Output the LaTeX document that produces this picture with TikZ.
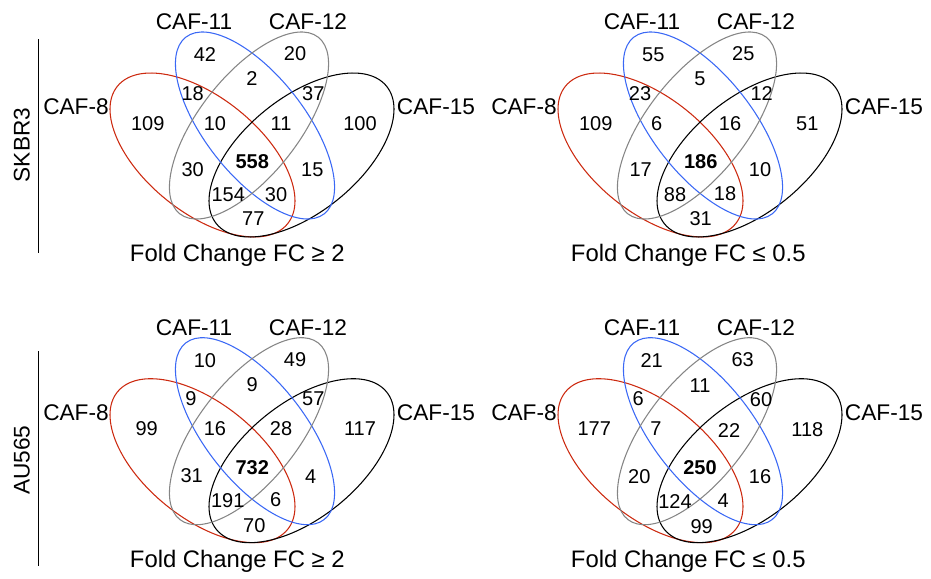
\documentclass[tikz,border=0pt]{standalone}
\usepackage{fontspec}
\setmainfont{Liberation Sans}
\definecolor{cafred}{HTML}{CC2A10}
\definecolor{cafblue}{HTML}{3A68F5}
\definecolor{cafgray}{HTML}{858585}
\tikzset{
  ell/.style={line width=0.8pt},
  num/.style={inner sep=0pt, font=\fontsize{15}{18}\selectfont},
  bnum/.style={num, font=\fontsize{15}{18}\selectfont\bfseries},
  lab/.style={inner sep=0pt, font=\fontsize{17}{20}\selectfont},
  fclab/.style={inner sep=0pt, font=\fontsize{17.9}{21}\selectfont, anchor=base},
  venn/.pic={
    \draw[ell, cafred, rotate around={-38.9:(202.5,155)}] (202.5,155) ellipse [x radius=82.05pt, y radius=43.1pt];
    \draw[ell, black, rotate around={38.9:(301.5,155)}] (301.5,155) ellipse [x radius=82.05pt, y radius=43.1pt];
    \draw[ell, cafblue, rotate around={-51.9:(255,125.5)}] (255,125.5) ellipse [x radius=84.15pt, y radius=37.35pt];
    \draw[ell, cafgray, rotate around={51.9:(249,125.5)}] (249,125.5) ellipse [x radius=84.15pt, y radius=37.35pt];
  }
}
\begin{document}
\begin{tikzpicture}[x=0.75pt, y=-0.75pt]
\useasboundingbox (0,0) rectangle (931,578);
\pic at (0,0) {venn};
\pic at (448,0) {venn};
\pic at (0,305.7) {venn};
\pic at (448,305.7) {venn};
% row labels
\node[lab, rotate=90] (skbr) at (21.7,145) {SKBR3};
\node[lab, rotate=90] (au) at (21.7,460.3) {AU565};
\coordinate (l1a) at (38.3,39.3);
\coordinate (l1b) at (38.3,253.3);
\coordinate (l2a) at (38.3,351.3);
\coordinate (l2b) at (38.3,566.3);
\draw[line width=0.6pt] (l1a) -- (l1b);
\draw[line width=0.6pt] (l2a) -- (l2b);
% set labels
\foreach \dx/\dy/\p in {0/0/a, 448/0/b, 0/305.7/c, 448/305.7/d}{
  \node[lab] (\p c11) at (194+\dx,21.7+\dy) {CAF-11};
  \node[lab] (\p c12) at (308+\dx,21.7+\dy) {CAF-12};
  \node[lab] (\p c8) at (76+\dx,107+\dy) {CAF-8};
  \node[lab] (\p c15) at (436+\dx,107+\dy) {CAF-15};
}
\node[fclab] (afc) at (237.3,261.7) {Fold Change FC ≥ 2};
\node[fclab] (bfc) at (688.3,261.7) {Fold Change FC ≤ 0.5};
\node[fclab] (cfc) at (237.3,567.4) {Fold Change FC ≥ 2};
\node[fclab] (dfc) at (688.3,567.4) {Fold Change FC ≤ 0.5};
% panel A numbers
\node[num] (a1) at (205,54.3) {42};
\node[num] (a2) at (295,53.3) {20};
\node[num] (a3) at (252,79) {2};
\node[num] (a4) at (192.7,93.3) {18};
\node[num] (a5) at (313.3,94) {37};
\node[num] (a6) at (147.7,123.3) {109};
\node[num] (a7) at (215,123.3) {10};
\node[num] (a8) at (281,123.3) {11};
\node[num] (a9) at (360,123.3) {100};
\node[bnum] (a10) at (252.3,161.7) {558};
\node[num] (a11) at (192.7,170) {30};
\node[num] (a12) at (312.3,170) {15};
\node[num] (a13) at (228.3,194.3) {154};
\node[num] (a14) at (276,194.3) {30};
\node[num] (a15) at (253.3,219) {77};
% panel B numbers
\node[num] (b1) at (653.3,54.3) {55};
\node[num] (b2) at (743.3,53.3) {25};
\node[num] (b3) at (700,79) {5};
\node[num] (b4) at (640,93.3) {23};
\node[num] (b5) at (761.7,94) {12};
\node[num] (b6) at (595.7,123.3) {109};
\node[num] (b7) at (656.7,123.3) {6};
\node[num] (b8) at (730,123.3) {16};
\node[num] (b9) at (807.3,123.3) {51};
\node[bnum] (b10) at (700.7,161.7) {186};
\node[num] (b11) at (640.7,170) {17};
\node[num] (b12) at (760,170) {10};
\node[num] (b13) at (675,194.3) {88};
\node[num] (b14) at (725,193.3) {18};
\node[num] (b15) at (700.7,219) {31};
% panel C numbers
\node[num] (c1) at (205,360.3) {10};
\node[num] (c2) at (295,359.7) {49};
\node[num] (c3) at (252.3,384.7) {9};
\node[num] (c4) at (191,399) {9};
\node[num] (c5) at (313.3,399) {57};
\node[num] (c6) at (146.7,429) {99};
\node[num] (c7) at (215,429) {16};
\node[num] (c8) at (281,429) {28};
\node[num] (c9) at (360,429) {117};
\node[bnum] (c10) at (252.3,467.3) {732};
\node[num] (c11) at (191.7,475.7) {31};
\node[num] (c12) at (310.7,476.3) {4};
\node[num] (c13) at (227.7,500.3) {191};
\node[num] (c14) at (275.7,499.7) {6};
\node[num] (c15) at (254.3,525.3) {70};
% panel D numbers
\node[num] (d1) at (651.7,360.3) {21};
\node[num] (d2) at (742.7,359.7) {63};
\node[num] (d3) at (700,385.3) {11};
\node[num] (d4) at (638.3,399) {6};
\node[num] (d5) at (761,399.7) {60};
\node[num] (d6) at (594.3,429) {177};
\node[num] (d7) at (656,429) {7};
\node[num] (d8) at (729,430.3) {22};
\node[num] (d9) at (807.3,429.7) {118};
\node[bnum] (d10) at (700,468) {250};
\node[num] (d11) at (639.3,477) {20};
\node[num] (d12) at (760,477) {16};
\node[num] (d13) at (675,501.3) {124};
\node[num] (d14) at (723.3,500.7) {4};
\node[num] (d15) at (701.7,526.3) {99};
\end{tikzpicture}
\end{document}
